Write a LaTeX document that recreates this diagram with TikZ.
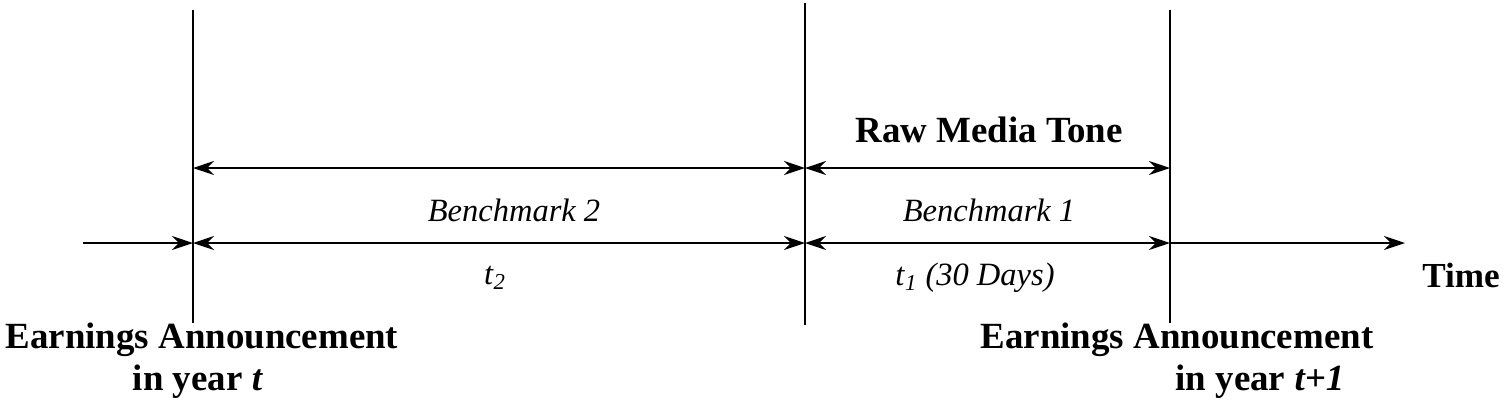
\documentclass[tikz,border=0pt]{standalone}
\usepackage{fontspec}
\setmainfont{Liberation Serif}
\usetikzlibrary{arrows.meta}
\begin{document}
\begin{tikzpicture}[x=0.02cm,y=-0.02cm,
    span/.style={thick,{Stealth[length=12pt,width=8pt]}-{Stealth[length=12pt,width=8pt]}},
    lbl/.style={font=\fontsize{18.5}{22}\selectfont},
    blbl/.style={font=\fontsize{21}{25}\selectfont\bfseries}]
            \useasboundingbox (0,0) rectangle (1504,407);
            % vertical marks
            \coordinate (eat) at (193,243);
            \coordinate (mid) at (805,243);
            \coordinate (eau) at (1170,243);
            \draw[thick] (193,10)--(193,323);
            \draw[thick] (805,3)--(805,325);
            \draw[thick] (1170,10)--(1170,323);
            % time axis
            \coordinate (start) at (83,243);
            \coordinate (stop) at (1405,243);
            \draw[thick,-{Stealth[length=12pt,width=8pt]}] (start)--(eat);
            \draw[thick,-{Stealth[length=12pt,width=8pt]}] (eau)--(stop);
            \draw[span] (eat)--(mid);
            \draw[span] (mid)--(eau);
            \draw[span] (193,168)--(805,168);
            \draw[span] (805,168)--(1170,168);
            % labels
            \node[blbl] (raw) at (989,130) {Raw Media Tone};
            \node[lbl] (bm2) at (514,210) {\textit{Benchmark 2}};
            \node[lbl] (bm1) at (989,210) {\textit{Benchmark 1}};
            \node[lbl] (t2) at (495,278) {\textit{t}\textsubscript{\textit{2}}};
            \node[lbl] (t1) at (975,278) {\textit{t}\textsubscript{\textit{1}} \textit{(30 Days)}};
            \node[font=\fontsize{20}{24}\selectfont\bfseries] (time) at (1461,275) {Time};
            \node[blbl] (ea1) at (202,340) {Earnings Announcement};
            \node[blbl] (yr1) at (198,382) {in year \textit{t}};
            \node[blbl] (ea2) at (1177,340) {Earnings Announcement};
            \node[blbl] (yr2) at (1260,382) {in year \textit{t+1}};
\end{tikzpicture}
\end{document}
